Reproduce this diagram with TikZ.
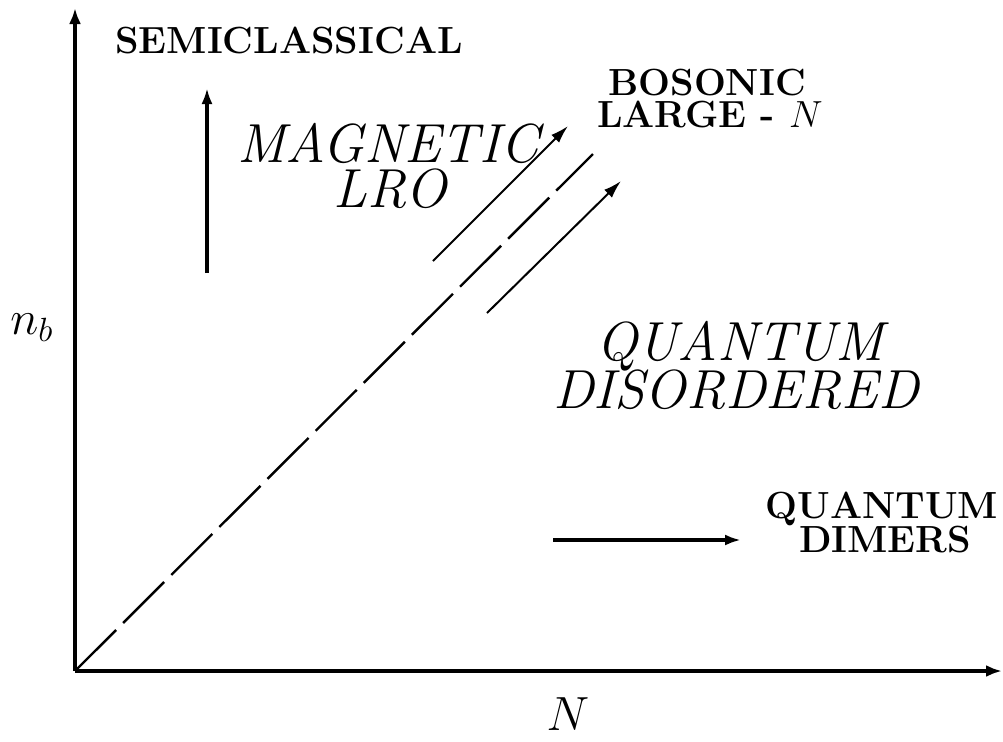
\RequirePackage{fix-cm}
\documentclass[tikz,border=0pt]{standalone}
\usepackage{fontspec}
\usetikzlibrary{arrows.meta}
\begin{document}
\begin{tikzpicture}[x=0.5pt,y=-0.5pt,
  axis/.style={line width=1.8pt,-{Latex[length=8pt,width=6pt]}},
  bigarrow/.style={line width=1.6pt,-{Latex[length=8pt,width=5.5pt]}},
  diagarrow/.style={line width=1pt,-{Latex[length=9pt,width=5.5pt]}},
  boldlbl/.style={inner sep=0pt,anchor=base,font=\fontsize{18.9}{22}\selectfont\bfseries},
  itlbl/.style={inner sep=0pt,anchor=base,font=\fontsize{27.5}{30}\selectfont\itshape},
  axlbl/.style={inner sep=0pt,font=\fontsize{24}{28}\selectfont}]
\useasboundingbox (0,0) rectangle (1003,741);
% axes
\coordinate (O) at (75,671);
\coordinate (ytop) at (75,8);
\coordinate (xend) at (1002,671);
\draw[axis] (O) -- (ytop);
\draw[axis] (O) -- (xend);
% axis labels
\node[axlbl,anchor=base west] (nb) at (10,334) {$n_b$};
\node[axlbl,anchor=base] (NN) at (568,730) {$N$};
% dashed boundary
\coordinate (dend) at (593,154);
\draw[line width=1.2pt,dash pattern=on 29pt off 5pt] (O) -- (dend);
% diagonal arrows
\coordinate (a1s) at (433,261);
\coordinate (a1e) at (568,126);
\coordinate (a2s) at (487,313);
\coordinate (a2e) at (621,181);
\draw[diagarrow] (a1s) -- (a1e);
\draw[diagarrow] (a2s) -- (a2e);
% semiclassical arrow
\coordinate (s1) at (207,273);
\coordinate (s2) at (207,88);
\draw[bigarrow] (s1) -- (s2);
% dimers arrow
\coordinate (d1) at (553,540);
\coordinate (d2) at (741,540);
\draw[bigarrow] (d1) -- (d2);
% labels
\node[boldlbl] (semi) at (289,53) {SEMICLASSICAL};
\node[boldlbl] (bos1) at (707,95) {BOSONIC};
\node[boldlbl] (bos2) at (710,127) {LARGE - $N$};
\node[itlbl] (mag1) at (388,162) {MAGNETIC};
\node[itlbl] (mag2) at (390,207) {LRO};
\node[itlbl] (qd1) at (740,360) {QUANTUM};
\node[itlbl] (qd2) at (736,408) {DISORDERED};
\node[boldlbl] (qdim1) at (882,518) {QUANTUM};
\node[boldlbl] (qdim2) at (885,552) {DIMERS};
\end{tikzpicture}
\end{document}
